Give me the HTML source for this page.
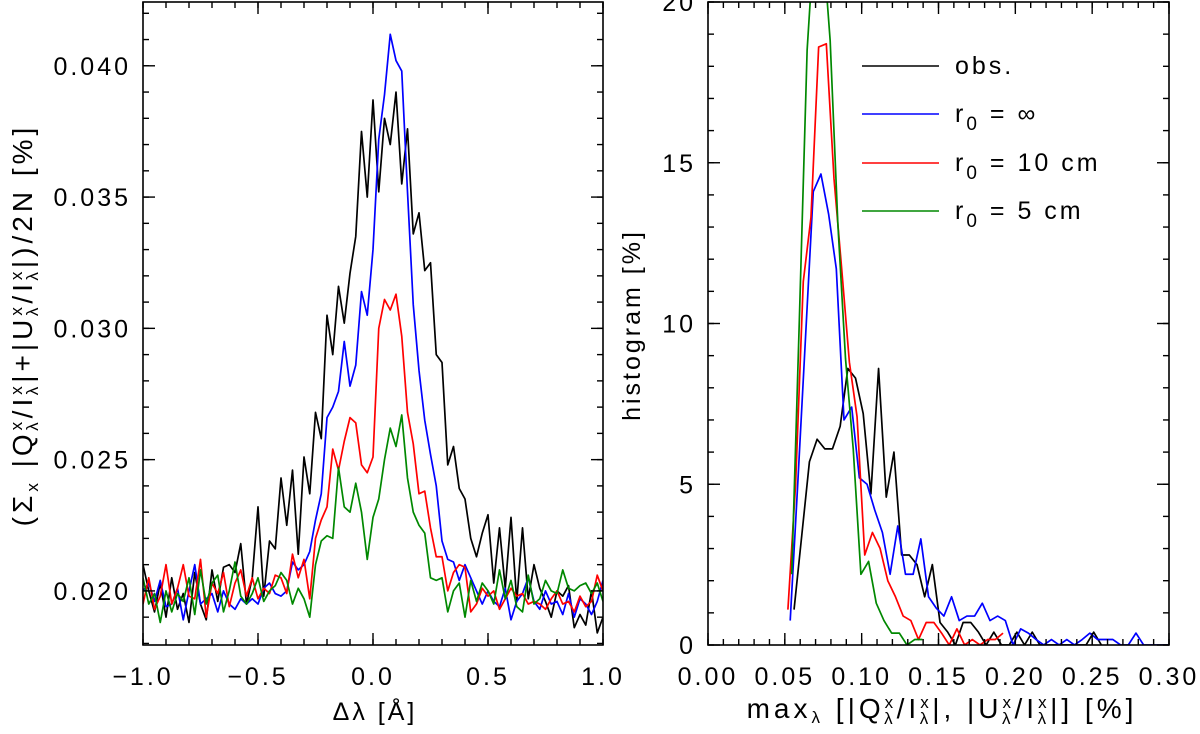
<!DOCTYPE html>
<html><head><meta charset="utf-8"><style>
html,body{margin:0;padding:0;background:#fff;}
svg{display:block;font-family:"Liberation Sans",sans-serif;}
.tl{font-size:25px;letter-spacing:3px;fill:#000;}
.tt{font-size:25px;letter-spacing:3px;fill:#000;}
.ty{font-size:28px;letter-spacing:4px;fill:#000;}
</style></head><body>
<svg id="chart" width="1200" height="734" viewBox="0 0 1200 734" xmlns="http://www.w3.org/2000/svg">
<g id="left"></g>
<g id="right"></g>
<text class="tt" x="375" y="720" text-anchor="middle">Δλ [Å]</text>
<text class="ty" transform="translate(32,325) rotate(-90)" text-anchor="middle">(Σ<tspan font-size="17" dy="6">x</tspan><tspan dy="-6"> |Q</tspan><tspan font-size="17" dy="-10">x</tspan><tspan font-size="17" dx="-13" dy="16">λ</tspan><tspan dy="-6">/I</tspan><tspan font-size="17" dy="-10">x</tspan><tspan font-size="17" dx="-13" dy="16">λ</tspan><tspan dy="-6">|+|U</tspan><tspan font-size="17" dy="-10">x</tspan><tspan font-size="17" dx="-13" dy="16">λ</tspan><tspan dy="-6">/I</tspan><tspan font-size="17" dy="-10">x</tspan><tspan font-size="17" dx="-13" dy="16">λ</tspan><tspan dy="-6">|)/2N [%]</tspan></text>
<text class="tt" transform="translate(640,325) rotate(-90)" text-anchor="middle">histogram [%]</text>
<text class="ty" font-size="26" x="942" y="718" text-anchor="middle">max<tspan font-size="17" dy="5">λ</tspan><tspan dy="-5"> [|Q</tspan><tspan font-size="17" dy="-10">x</tspan><tspan font-size="17" dx="-13" dy="16">λ</tspan><tspan dy="-6">/I</tspan><tspan font-size="17" dy="-10">x</tspan><tspan font-size="17" dx="-13" dy="16">λ</tspan><tspan dy="-6">|, |U</tspan><tspan font-size="17" dy="-10">x</tspan><tspan font-size="17" dx="-13" dy="16">λ</tspan><tspan dy="-6">/I</tspan><tspan font-size="17" dy="-10">x</tspan><tspan font-size="17" dx="-13" dy="16">λ</tspan><tspan dy="-6">|] [%]</tspan></text>
<g id="legend"></g>
</svg>
<script>
// ---- Left panel data ----
const leftXStart = -1.0, leftXStep = 0.025;
const obsProfile = [0.0210,0.0200,0.0192,0.0203,0.0190,0.0205,0.0193,0.0199,0.0188,0.0207,0.0195,0.0189,0.0208,0.0196,0.0209,0.0210,0.0207,0.0218,0.0195,0.0205,0.0232,0.0198,0.0219,0.0216,0.0243,0.0225,0.0246,0.0214,0.0251,0.0237,0.0268,0.0258,0.0305,0.0290,0.0316,0.0302,0.0321,0.0335,0.0375,0.0350,0.0387,0.0352,0.0380,0.0370,0.0390,0.0355,0.0376,0.0336,0.0344,0.0322,0.0325,0.0290,0.0287,0.0248,0.0255,0.0239,0.0235,0.0220,0.0213,0.0222,0.0229,0.0203,0.0224,0.0201,0.0228,0.0196,0.0224,0.0197,0.0210,0.0201,0.0196,0.0190,0.0200,0.0198,0.0202,0.0186,0.0191,0.0187,0.0200,0.0184,0.0190];
const infProfile = [0.0200,0.0203,0.0196,0.0204,0.0194,0.0195,0.0201,0.0189,0.0200,0.0210,0.0195,0.0197,0.0199,0.0192,0.0200,0.0195,0.0193,0.0197,0.0195,0.0197,0.0195,0.0201,0.0203,0.0199,0.0198,0.0200,0.0211,0.0208,0.0210,0.0215,0.0227,0.0237,0.0266,0.0270,0.0276,0.0295,0.0278,0.0286,0.0314,0.0305,0.0330,0.0372,0.0389,0.0412,0.0402,0.0398,0.0352,0.0309,0.0284,0.0265,0.0252,0.0240,0.0219,0.0212,0.0211,0.0204,0.0210,0.0205,0.0200,0.0195,0.0200,0.0196,0.0194,0.0201,0.0189,0.0196,0.0199,0.0205,0.0196,0.0193,0.0200,0.0195,0.0196,0.0191,0.0199,0.0190,0.0197,0.0195,0.0191,0.0196,0.0204];
const r10Profile = [0.0195,0.0205,0.0193,0.0198,0.0210,0.0195,0.0201,0.0210,0.0198,0.0197,0.0212,0.0190,0.0203,0.0199,0.0207,0.0194,0.0203,0.0208,0.0198,0.0205,0.0197,0.0201,0.0199,0.0206,0.0205,0.0199,0.0214,0.0205,0.0212,0.0197,0.0220,0.0227,0.0232,0.0254,0.0246,0.0257,0.0266,0.0264,0.0248,0.0245,0.0251,0.0300,0.0311,0.0307,0.0313,0.0297,0.0268,0.0256,0.0237,0.0238,0.0224,0.0213,0.0213,0.0200,0.0207,0.0210,0.0209,0.0192,0.0195,0.0201,0.0198,0.0200,0.0193,0.0197,0.0201,0.0198,0.0199,0.0195,0.0196,0.0195,0.0193,0.0197,0.0200,0.0195,0.0196,0.0192,0.0198,0.0194,0.0196,0.0206,0.0200];
const r5Profile = [0.0205,0.0195,0.0199,0.0188,0.0200,0.0192,0.0199,0.0196,0.0205,0.0191,0.0208,0.0195,0.0203,0.0206,0.0192,0.0200,0.0211,0.0198,0.0195,0.0199,0.0205,0.0196,0.0200,0.0202,0.0207,0.0204,0.0195,0.0201,0.0197,0.0190,0.0210,0.0219,0.0221,0.0220,0.0247,0.0232,0.0230,0.0241,0.0230,0.0212,0.0228,0.0235,0.0250,0.0262,0.0255,0.0267,0.0243,0.0230,0.0225,0.0222,0.0205,0.0204,0.0205,0.0192,0.0200,0.0203,0.0190,0.0204,0.0196,0.0203,0.0200,0.0195,0.0208,0.0197,0.0204,0.0194,0.0192,0.0206,0.0195,0.0197,0.0204,0.0200,0.0199,0.0208,0.0201,0.0200,0.0202,0.0203,0.0199,0.0203,0.0196];
const leftXTicks = [-1.0,-0.5,0.0,0.5,1.0];
const leftXTickLabels = ["−1.0","−0.5","0.0","0.5","1.0"];
const leftYTicks = [0.020,0.025,0.030,0.035,0.040];
const leftYTickLabels = ["0.020","0.025","0.030","0.035","0.040"];

// ---- Right panel data ----
const histStep = 0.005;
const obsHistStart = 0.056;
const obsHist = [1.1,3.4,5.7,6.4,6.1,6.1,6.8,8.6,8.3,7.2,4.7,8.6,4.6,6.0,2.8,2.8,2.5,1.5,2.5,0.7,0.4,0,0.7,0.7,0.4,0,0.4,0,0,0.4,0,0.4,0,0,0,0,0,0,0,0.4,0];
const infHistStart = 0.0535;
const infHist = [0.76,5.1,9.6,14.1,14.65,13.4,11.7,7.0,7.4,5.2,5.0,4.2,3.5,2.2,3.7,2.2,2.2,3.3,1.5,1.15,0.9,1.5,0.76,0.9,0.9,1.3,0.76,0.9,0.76,0,0.5,0.37,0.17,0,0.17,0,0.17,0,0.17,0.37,0.17,0.17,0.17,0,0,0.37,0,0,0,0,0];
const r10HistStart = 0.052;
const r10Hist = [1.1,5.0,11.3,13.3,18.6,18.7,14.5,11.7,8.8,7.1,2.8,3.5,3.0,2.0,1.5,0.9,0.76,0.17,0.7,0.7,0.37,0,0.5,0,0.17,0,0.17,0.17,0.37];
const r5HistStart = 0.0545;
const r5Hist = [2.2,10.2,18.5,22.3,22.0,18.8,13.1,8.9,6.1,2.2,2.6,1.3,0.76,0.37,0.37,0,0.17,0.17];
const rightXTicks = [0.00,0.05,0.10,0.15,0.20,0.25,0.30];
const rightXTickLabels = ["0.00","0.05","0.10","0.15","0.20","0.25","0.30"];
const rightYTicks = [0,5,10,15,20];
const rightYTickLabels = ["0","5","10","15","20"];
const legendSuffix = ["","= ∞","= 10 cm","= 5 cm"];
const legendColors = ["#000","#0000ff","#ff0000","#008800"];

const NS = "http://www.w3.org/2000/svg";
function mk(parent, tag, attrs){ const e=document.createElementNS(NS,tag); for(const k in attrs) e.setAttribute(k,attrs[k]); parent.appendChild(e); return e; }

const L = {x0:143, x1:603, y0:2, y1:645, xmin:-1, xmax:1, ymin:0.017940, ymax:0.042430};
const lx = v => L.x0 + (v-L.xmin)/(L.xmax-L.xmin)*(L.x1-L.x0);
const ly = v => L.y1 - (v-L.ymin)/(L.ymax-L.ymin)*(L.y1-L.y0);
const R = {x0:708, x1:1169, y0:2, y1:645, xmin:0, xmax:0.30, ymin:0, ymax:20};
const rx = v => R.x0 + (v-R.xmin)/(R.xmax-R.xmin)*(R.x1-R.x0);
const ry = v => R.y1 - (v-R.ymin)/(R.ymax-R.ymin)*(R.y1-R.y0);

const gl = document.getElementById('left');
const gr = document.getElementById('right');

function clip(g,id,A){ const d=mk(g,'defs',{}); const c=mk(d,'clipPath',{id:id}); mk(c,'rect',{x:A.x0,y:A.y0,width:A.x1-A.x0,height:A.y1-A.y0}); }
clip(gl,'clipL',L); clip(gr,'clipR',R);

function series(g, clipId, xs, ys, fx, fy, color, name){
  const pts = ys.map((v,i)=>fx(xs(i)).toFixed(2)+','+fy(v).toFixed(2)).join(' ');
  const p = mk(g,'polyline',{points:pts,fill:'none',stroke:color,'stroke-width':1.7,'stroke-linejoin':'round','clip-path':'url(#'+clipId+')'});
  
  
}
series(gl,'clipL',i=>leftXStart+i*leftXStep,obsProfile,lx,ly,'#000','obs-profile-line');
series(gl,'clipL',i=>leftXStart+i*leftXStep,infProfile,lx,ly,'#0000ff','r0-inf-profile-line');
series(gl,'clipL',i=>leftXStart+i*leftXStep,r10Profile,lx,ly,'#ff0000','r0-10cm-profile-line');
series(gl,'clipL',i=>leftXStart+i*leftXStep,r5Profile,lx,ly,'#008800','r0-5cm-profile-line');

series(gr,'clipR',i=>obsHistStart+i*histStep,obsHist,rx,ry,'#000','obs-histogram-line');
series(gr,'clipR',i=>infHistStart+i*histStep,infHist,rx,ry,'#0000ff','r0-inf-histogram-line');
series(gr,'clipR',i=>r10HistStart+i*histStep,r10Hist,rx,ry,'#ff0000','r0-10cm-histogram-line');
series(gr,'clipR',i=>r5HistStart+i*histStep,r5Hist,rx,ry,'#008800','r0-5cm-histogram-line');

function frame(g,A,name){
  const r = mk(g,'rect',{x:A.x0,y:A.y0,width:A.x1-A.x0,height:A.y1-A.y0,fill:'none',stroke:'#000','stroke-width':1.6});
  
  
}
frame(gl,L,'left-plot-frame'); frame(gr,R,'right-plot-frame');

function ticks(g,A,fx,fy,xMinor,yMinor,xMajor,yMajor,xLab,yLab,prefix){
  const t = mk(g,'g',{stroke:'#000','stroke-width':1.4});
  
  
  xMinor.forEach(v=>{ const X=fx(v); mk(t,'line',{x1:X,x2:X,y1:A.y1,y2:A.y1-6}); mk(t,'line',{x1:X,x2:X,y1:A.y0,y2:A.y0+6}); });
  yMinor.forEach(v=>{ const Y=fy(v); mk(t,'line',{x1:A.x0,x2:A.x0+6,y1:Y,y2:Y}); mk(t,'line',{x1:A.x1,x2:A.x1-6,y1:Y,y2:Y}); });
  xMajor.forEach((v,i)=>{ const X=fx(v); mk(t,'line',{x1:X,x2:X,y1:A.y1,y2:A.y1-12}); mk(t,'line',{x1:X,x2:X,y1:A.y0,y2:A.y0+12});
    const tx = mk(g,'text',{x:X,y:685,'text-anchor':'middle',class:'tl'}); tx.textContent=xLab[i];
    
     });
  yMajor.forEach((v,i)=>{ const Y=fy(v); mk(t,'line',{x1:A.x0,x2:A.x0+12,y1:Y,y2:Y}); mk(t,'line',{x1:A.x1,x2:A.x1-12,y1:Y,y2:Y});
    const tx = mk(g,'text',{x:A.x0-12,y:Y+9,'text-anchor':'end',class:'tl'}); tx.textContent=yLab[i];
    
     });
}
const lxm=[],lym=[],rxm=[],rym=[];
for(let i=-10;i<=10;i++) lxm.push(i/10);
for(let i=18;i<=42;i++) lym.push(i/1000);
for(let i=0;i<=30;i++) rxm.push(i/100);
for(let i=0;i<=20;i++) rym.push(i);
ticks(gl,L,lx,ly,lxm,lym,leftXTicks,leftYTicks,leftXTickLabels,leftYTickLabels,'left');
ticks(gr,R,rx,ry,rxm,rym,rightXTicks,rightYTicks,rightXTickLabels,rightYTickLabels,'right');

const lg = document.getElementById('legend');
const legY = [66,114,163,211];
legendSuffix.forEach((suf,i)=>{
  const e = mk(lg,'g',{});
  
  
  mk(e,'line',{x1:862,x2:939,y1:legY[i],y2:legY[i],stroke:legendColors[i],'stroke-width':1.6});
  const t = mk(e,'text',{x:955,y:legY[i]+8,class:'tl'});
  if(i===0){ t.textContent = 'obs.'; }
  else {
    const a = mk(t,'tspan',{}); a.textContent='r';
    const b = mk(t,'tspan',{'font-size':'19',dy:'8'}); b.textContent='0';
    const c = mk(t,'tspan',{dy:'-8',dx:'10'}); c.textContent=suf;
  }
});
</script>
</body></html>
